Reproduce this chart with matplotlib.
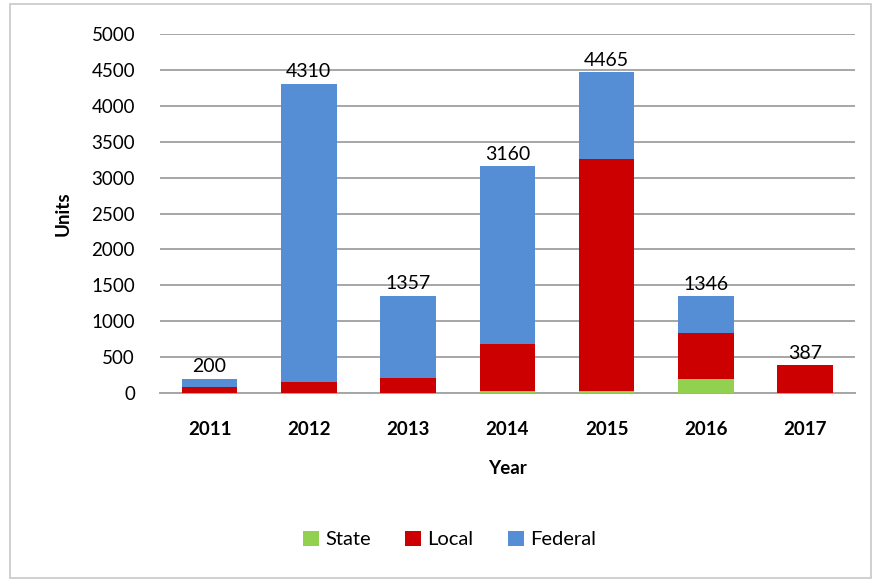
import matplotlib.pyplot as plt
import numpy as np
from matplotlib.patches import Rectangle

years = ['2011', '2012', '2013', '2014', '2015', '2016', '2017']
state = [0, 0, 0, 25, 30, 190, 0]
local = [90, 150, 210, 655, 3225, 640, 387]
federal = [110, 4160, 1147, 2480, 1210, 516, 0]
totals = [200, 4310, 1357, 3160, 4465, 1346, 387]

plt.rcParams['font.family'] = ['Lato', 'DejaVu Sans']

fig = plt.figure(figsize=(8.73, 5.79), dpi=100)
ax = fig.add_axes([0.1833, 0.3212, 0.7957, 0.6201])

x = np.arange(len(years))
w = 0.56
s = np.array(state)
l = np.array(local)
f = np.array(federal)
ax.bar(x, s, w, color='#92d050', label='State', zorder=3)
ax.bar(x, l, w, bottom=s, color='#cc0000', label='Local', zorder=3)
ax.bar(x, f, w, bottom=s + l, color='#558ed5', label='Federal', zorder=3)

for xi, t in zip(x, totals):
    ax.text(xi, t + 50, str(t), ha='center', va='bottom', fontsize=14, zorder=4)

ax.set_ylim(0, 5000)
ax.set_xlim(-0.5, len(years) - 0.5)
ax.set_yticks(range(0, 5001, 500))
ax.yaxis.grid(True, color='#a6a6a6', linewidth=1.4, zorder=0)
ax.set_axisbelow(True)
for sp in ['top', 'right', 'left']:
    ax.spines[sp].set_visible(False)
ax.spines['bottom'].set_color('#a6a6a6')
ax.spines['bottom'].set_linewidth(1.4)
ax.tick_params(axis='both', length=0, labelsize=13.5)
ax.tick_params(axis='y', pad=18)
ax.tick_params(axis='x', pad=20)
ax.set_xticks(x)
ax.set_xticklabels(years, fontweight='bold')
ax.set_xlabel('Year', fontweight='bold', fontsize=13.5, labelpad=16)
ax.set_ylabel('Units', fontweight='bold', fontsize=13.5, labelpad=14)

fig.legend(loc='center', bbox_to_anchor=(0.515, 0.068), ncol=3, frameon=False,
           fontsize=14.5, handlelength=0.8, handleheight=0.8, handletextpad=0.3,
           columnspacing=1.7)

fig.patches.append(Rectangle((0.011, 0.002), 0.987, 0.991, transform=fig.transFigure,
                             fill=False, edgecolor='#c8c8c8', linewidth=1.2))

fig.savefig('out.png', dpi=100)
